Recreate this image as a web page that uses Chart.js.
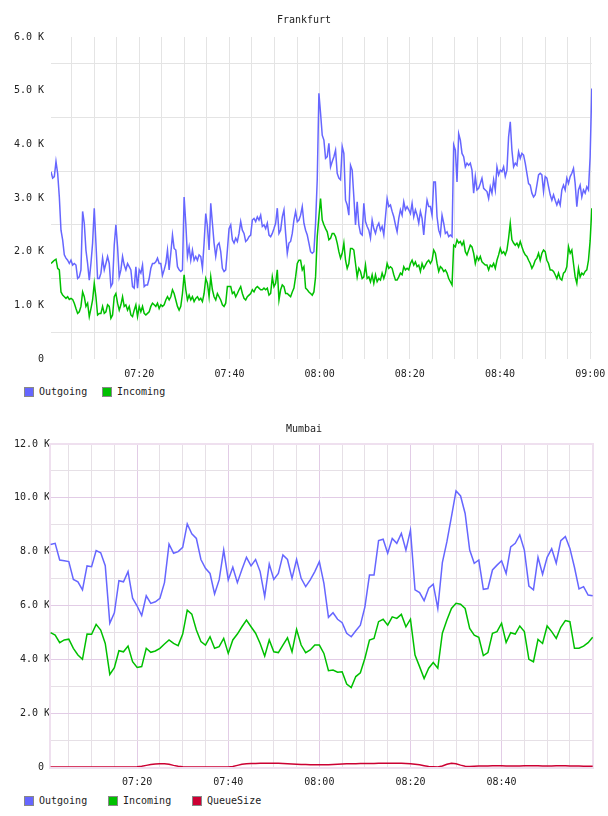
<!DOCTYPE html>
<html>
<head>
<meta charset="utf-8">
<title>Frankfurt / Mumbai</title>
<script src="https://cdn.jsdelivr.net/npm/chart.js@4.4.1/dist/chart.umd.min.js"></script>
<style>
  body { margin: 0; background: #fff; width: 608px; height: 816px; position: relative; overflow: hidden; }
  canvas { position: absolute; left: 0; }
  .legend { position: absolute; left: 24px; display: flex; font: 10px 'DejaVu Sans Mono', monospace; color: #222; line-height: 10px; }
  .legend span { display: flex; align-items: center; }
  .legend i { display: inline-block; width: 8px; height: 8px; border: 1px solid #888; margin-right: 5px; }
</style>
</head>
<body>
<canvas id="frk" width="608" height="380" style="top:0"></canvas>
<div class="legend" id="frkLegend" style="top:387px"></div>
<canvas id="mum" width="608" height="390" style="top:400px"></canvas>
<div class="legend" id="mumLegend" style="top:796px"></div>
<script>
// Frankfurt: one sample about every 22 s, starting 07:00:26 (minutes after 07:00)
var frkStart = 0.43;
var frkStep = 0.369;
var frkOut = [
  3490,3370,3400,3680,3460,3020,2400,2220,1940,1880,
  1840,1780,1840,1750,1780,1750,1500,1530,1660,2750,
  2530,2030,1780,1470,1780,2160,2810,2160,1500,1500,
  1600,1880,1660,1780,1910,1780,1350,1410,2120,2500,
  2090,1530,1660,1910,1750,1660,1780,1720,1660,1350,
  1320,1720,1320,1660,1600,1750,1350,1380,1380,1500,
  1690,1780,1780,1810,1880,1780,1780,1560,1660,1780,
  2030,1660,1970,2310,2060,2030,1720,1660,1630,1660,
  3020,2530,1910,2090,1840,2030,1840,1910,1840,1940,
  1910,1690,2160,2710,2470,2030,2900,2530,2160,1910,
  2120,2160,2000,1690,1630,1660,2030,2430,
  2500,2220,2160,2250,2190,2340,2560,2400,2340,2190,
  2220,2280,2310,2590,2620,2560,2650,2590,2680,2470,
  2500,2430,2530,2310,2280,2340,2430,2530,2810,2340,
  2400,2650,2780,2340,1970,2160,2190,2340,2590,2750,
  2560,2590,2680,2840,2530,2400,2310,2160,2000,1970,
  2000,2530,
  3340,4950,4580,4170,4080,3740,3770,4020,3580,3680,
  3770,3890,3460,3370,3340,3960,3830,2960,2870,2680,
  3610,3520,3020,2500,2930,2500,2340,2310,2900,2560,
  2470,2400,2250,2590,2430,2340,2470,2530,2400,2470,
  2310,2650,2990,2840,2870,2750,2650,2500,2370,2620,
  2780,2680,2930,2780,2840,2780,2710,2900,2650,2780,
  2680,2530,2750,2620,2310,2680,2960,2840,
  2840,2680,3300,3300,2650,2400,2310,2680,2530,2340,
  2370,2280,2310,2280,3990,3890,3300,4200,4080,3830,
  3770,3580,3650,3610,3650,3520,3090,3400,3150,3180,
  3270,3370,3180,3150,3120,2990,3210,3090,3340,3150,
  3580,3430,3520,3490,3580,3400,3520,4140,4420,3890,
  3580,3650,3610,3860,3740,3830,3800,3650,3460,3270,
  3240,3090,3020,3060,3240,3430,3460,3430,3120,3400,
  3370,3210,3060,2960,3060,2960,2870,2960,2870,3150,
  3240,3150,3370,3270,3400,3460,3550,3270,2840,3150,
  3240,3020,3150,3090,3210,3150,3770,5040
];
var frkIn = [
  1780,1810,1840,1860,1690,1660,1250,1190,1160,1130,
  1160,1110,1130,1110,1040,940,850,880,980,1250,
  1160,980,1040,790,940,1100,1410,1160,820,850,
  850,980,850,880,1010,980,760,820,1160,1220,
  1040,910,1010,1160,980,1010,910,980,820,790,
  910,1010,790,980,880,980,850,820,850,880,
  980,1040,1010,980,1040,940,1010,980,1010,1100,
  1160,1100,1160,1290,1220,1100,980,910,980,1220,
  1570,1290,1100,1190,1100,1160,1070,1130,1160,1100,
  1130,1070,1220,1500,1410,1160,1530,1290,1160,1100,
  1220,1160,1100,1010,980,1040,1350,1350,
  1350,1220,1250,1160,1220,1290,1350,1220,1130,1100,
  1160,1190,1220,1290,1250,1320,1350,1320,1290,1290,
  1320,1290,1320,1190,1220,1530,1350,1410,1660,1100,
  1290,1380,1350,1220,1220,1190,1160,1250,1320,1530,
  1780,1840,1840,1660,1720,1320,1290,1250,1220,1190,
  1250,1530,
  2280,2650,2990,2590,2500,2430,2370,2220,2250,2340,
  2340,2280,2160,2000,1880,1970,2160,1840,1690,1780,
  2060,2060,2030,1780,1530,1690,1630,1500,1530,1750,
  1500,1530,1440,1570,1410,1570,1440,1500,1470,1600,
  1500,1600,1780,1690,1720,1690,1570,1470,1470,1530,
  1600,1570,1720,1660,1690,1660,1780,1840,1750,1810,
  1720,1750,1630,1780,1690,1750,1810,1840,
  1780,1840,2030,1970,1780,1630,1720,1690,1630,1660,
  1600,1500,1440,1380,2120,2090,2220,2160,2190,2120,
  2190,2000,1940,2030,2120,2090,1970,1780,1910,1840,
  1910,1810,1780,1750,1750,1660,1750,1720,1780,1690,
  1840,1940,2060,1970,2000,1940,2030,2250,2530,2220,
  2160,2120,2160,2090,2190,2090,2000,1940,1910,1840,
  1780,1690,1750,1840,1880,1970,1840,1970,2030,2000,
  1840,1780,1660,1660,1630,1570,1500,1600,1500,1470,
  1600,1630,1720,2090,1970,2030,1780,1530,1410,1690,
  1530,1600,1570,1630,1660,1840,2200,2810
];

// Mumbai: one sample per minute, 07:01 .. 09:00
var mumStart = 1;
var mumOut = [
  8270,8310,7690,7660,7630,6970,6880,6580,7470,7440,
  8040,7960,7480,5340,5730,6920,6880,7260,6270,5980,
  5630,6360,6080,6140,6270,6850,8280,7940,8000,8160,
  9030,8660,8490,7710,7380,7190,6430,6950,8060,6950,
  7420,6850,7340,7790,7470,7710,7260,6330,7540,6970,
  7190,7880,7710,7010,7710,7010,6700,6950,7260,7630,
  6820,5560,5730,5490,5360,4970,4840,5060,5270,5950,
  7130,7130,8410,8460,7940,8490,8310,8680,8060,8800,
  6580,6480,6180,6640,6790,5890,7590,8370,9300,10260,
  10070,9420,8060,7570,7690,6600,6630,7320,7500,7660,
  7190,8180,8310,8620,8060,6720,6580,7790,7160,7790,
  8110,7570,8410,8560,8120,7420,6620,6700,6390,6360
];
var mumIn = [
  4990,4900,4620,4720,4750,4410,4160,4000,4940,4930,
  5300,5090,4590,3440,3690,4320,4280,4490,3910,3700,
  3730,4410,4260,4310,4410,4570,4720,4590,4510,4940,
  5830,5680,5090,4660,4530,4840,4410,4470,4780,4220,
  4720,4940,5210,5460,5210,4970,4590,4120,4720,4280,
  4250,4530,4800,4280,5110,4530,4250,4350,4530,4530,
  4220,3580,3600,3520,3540,3080,2950,3360,3500,4040,
  4720,4780,5400,5490,5270,5580,5520,5670,5210,5490,
  4160,3730,3290,3670,3880,3670,4970,5460,5890,6080,
  6050,5890,5150,4900,4820,4140,4250,4970,5030,5340,
  4630,4990,4940,5240,5030,4000,3910,4740,4590,5240,
  5030,4780,5190,5440,5400,4410,4410,4490,4620,4820
];
var mumQueue = [
  0,0,0,0,0,0,0,0,0,0,
  0,0,0,0,0,0,0,0,0,10,
  30,60,90,110,120,120,100,60,30,10,
  0,0,0,0,0,0,0,0,0,0,
  20,60,100,120,130,130,140,140,140,140,
  140,130,120,110,100,90,90,80,80,80,
  80,80,90,100,110,120,120,120,130,130,
  130,130,140,140,140,140,140,140,130,120,
  100,80,50,20,10,0,40,100,140,120,
  70,30,20,30,40,40,40,50,50,50,
  40,40,40,40,50,50,50,50,40,40,
  40,50,50,50,40,40,40,30,30,30
];

var blue = '#6666ff', green = '#00c000', red = '#cc0033';
var mono = "'DejaVu Sans Mono', monospace";

Chart.defaults.font.family = mono;
Chart.defaults.font.size = 10;
Chart.defaults.color = '#222';

function hhmm(m) {
  var t = 7 * 60 + Math.round(m);
  var h = Math.floor(t / 60), mm = t % 60;
  return (h < 10 ? '0' : '') + h + ':' + (mm < 10 ? '0' : '') + mm;
}
function kLabel(v) {
  return v === 0 ? '0' : (v / 1000).toFixed(1) + ' K';
}
function series(values, start, step) {
  return values.map(function (v, i) { return { x: start + i * step, y: v }; });
}
function line(label, values, start, step, color) {
  return {
    label: label, data: series(values, start, step), borderColor: color, backgroundColor: color,
    borderWidth: 1.5, pointRadius: 0, tension: 0, fill: false
  };
}
// fixed horizontal room for the plot, whatever the tick labels need
function padX(left, right) {
  return function (s) { s.paddingLeft = left; s.paddingRight = right; };
}

function htmlLegend(id, chart, width) {
  var el = document.getElementById(id);
  chart.data.datasets.forEach(function (ds) {
    var s = document.createElement('span');
    s.style.width = width + 'px';
    var box = document.createElement('i');
    box.style.background = ds.borderColor;
    s.appendChild(box);
    s.appendChild(document.createTextNode(ds.label));
    el.appendChild(s);
  });
}

// plot frame for the Mumbai chart, under the lines
var frame = {
  id: 'frame',
  beforeDatasetsDraw: function (chart, args, opts) {
    if (!opts.color) return;
    var a = chart.chartArea, c = chart.ctx;
    c.save();
    c.strokeStyle = opts.color;
    c.lineWidth = 2;
    c.strokeRect(a.left, a.top, a.right - a.left, a.bottom - a.top + 1);
    c.restore();
  }
};

var frkChart = new Chart(document.getElementById('frk'), {
  type: 'line',
  data: { datasets: [
    line('Outgoing', frkOut, frkStart, frkStep, blue),
    line('Incoming', frkIn, frkStart, frkStep, green)
  ] },
  options: {
    animation: false, responsive: false,
    layout: { padding: 0 },
    plugins: {
      legend: { display: false }, tooltip: { enabled: false },
      title: { display: true, text: 'Frankfurt', color: '#222', font: { family: mono, size: 10, weight: 'normal' }, padding: { top: 14, bottom: 11 } }
    },
    scales: {
      x: {
        type: 'linear', min: 0.43, max: 120.4,
        border: { display: false },
        grid: { color: '#e4e4e4', drawTicks: false },
        ticks: { stepSize: 5, includeBounds: false, autoSkip: false, maxRotation: 0, padding: 9,
          callback: function (v) { return v % 20 === 0 ? hhmm(v) : ''; } },
        afterFit: function (s) { s.height = 21; padX(0, 16)(s); }
      },
      y: {
        min: 0, max: 6000,
        border: { display: false },
        grid: { drawTicks: false, color: function (c) { return c.tick && c.tick.value % 1000 === 500 ? '#e4e4e4' : 'rgba(0,0,0,0)'; } },
        ticks: { stepSize: 500, padding: 7, callback: function (v) { return v % 1000 === 0 ? kLabel(v) : ''; } },
        afterFit: function (s) { s.width = 51; }
      }
    }
  }
});
htmlLegend('frkLegend', frkChart, 78);

var mumChart = new Chart(document.getElementById('mum'), {
  type: 'line',
  data: { datasets: [
    line('Outgoing', mumOut, mumStart, 1, blue),
    line('Incoming', mumIn, mumStart, 1, green),
    line('QueueSize', mumQueue, mumStart, 1, red)
  ] },
  plugins: [frame],
  options: {
    animation: false, responsive: false,
    layout: { padding: 0 },
    plugins: {
      legend: { display: false }, tooltip: { enabled: false },
      title: { display: true, text: 'Mumbai', color: '#222', font: { family: mono, size: 10, weight: 'normal' }, padding: { top: 23, bottom: 9 } },
      frame: { color: '#efe0ef' }
    },
    scales: {
      x: {
        type: 'linear', min: 0.87, max: 120.07,
        border: { display: false },
        grid: { drawTicks: false, color: function (c) { return c.tick && c.tick.value % 20 === 0 ? '#e2cce6' : '#e6e0e6'; } },
        ticks: { stepSize: 5, includeBounds: false, autoSkip: false, maxRotation: 0, padding: 9,
          callback: function (v) { return v >= 120 ? null : (v % 20 === 0 ? hhmm(v) : ''); } },
        afterFit: function (s) { s.height = 23; padX(0, 15)(s); }
      },
      y: {
        min: 0, max: 12000,
        border: { display: false },
        grid: { drawTicks: false, color: function (c) { return c.tick && c.tick.value % 2000 === 0 ? '#e2cce6' : '#e6e0e6'; } },
        ticks: { stepSize: 1000, padding: 0, callback: function (v) { return v % 2000 === 0 ? (v === 0 ? '0 ' : kLabel(v)) : ''; } },
        afterFit: function (s) { s.width = 50; }
      }
    }
  }
});
htmlLegend('mumLegend', mumChart, 84);
</script>
</body>
</html>
